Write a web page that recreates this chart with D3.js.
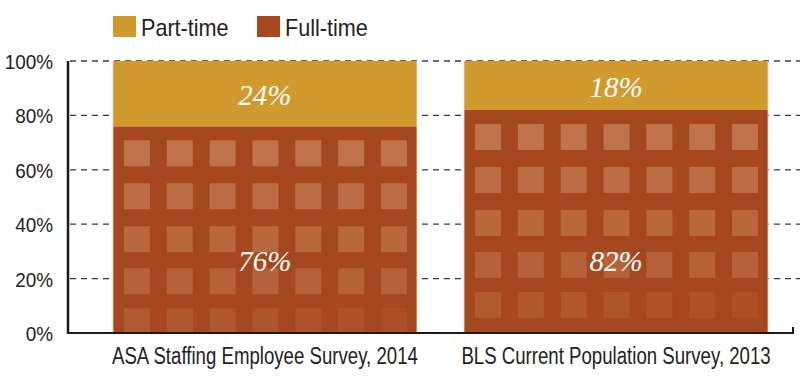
<!DOCTYPE html>
<html><head><meta charset="utf-8">
<script src="https://cdn.jsdelivr.net/npm/d3@7"></script>
<style>
html,body{margin:0;padding:0;background:#fff;}
svg{display:block;}
.cond{font-family:"Liberation Sans Narrow","Liberation Sans",Arial,sans-serif;}
</style></head>
<body>
<svg id="chart" width="800" height="384"></svg>
<script>
const categories = ["ASA Staffing Employee Survey, 2014", "BLS Current Population Survey, 2013"];
const fullTime = [76, 82];
const partTime = [24, 18];
const seriesNames = ["Part-time", "Full-time"];
const yTicks = [0, 20, 40, 60, 80, 100];

const svg = d3.select("#chart");
const colors = {"Part-time": "#d09a2e", "Full-time": "#a5481f"};

// condense text horizontally (emulates a condensed typeface)
function condense(sel, k) {
  sel.each(function () {
    const w = this.getComputedTextLength();
    d3.select(this).attr("textLength", w * k).attr("lengthAdjust", "spacingAndGlyphs");
  });
}

const y = d3.scaleLinear().domain([0, 100]).range([333, 61]);
const x = d3.scaleBand().domain(categories).range([68, 813]).paddingInner(0.134).paddingOuter(0.128);

// gridlines
svg.append("g").selectAll("line").data(yTicks.filter(d => d > 0)).join("line")
  .attr("x1", 70).attr("x2", 800)
  .attr("y1", d => y(d)).attr("y2", d => y(d))
  .attr("stroke", "#3a3a3a").attr("stroke-width", 1.3).attr("stroke-dasharray", "6,5");

// y tick labels
svg.append("g").selectAll("text").data(yTicks).join("text")
  .attr("class", "cond")
  .attr("x", 53).attr("y", d => y(d) + 8)
  .attr("text-anchor", "end").attr("font-size", 21).attr("fill", "#222")
  .text(d => d + "%")
  .call(condense, 0.9);

const defs = svg.append("defs");

categories.forEach((c, i) => {
  const g = svg.append("g");
  const bx = x(c), bw = x.bandwidth();
  const topFull = y(fullTime[i]);
  const topPart = y(fullTime[i] + partTime[i]);
  // full-time bar
  g.append("rect").attr("x", bx).attr("y", topFull).attr("width", bw).attr("height", y(0) - topFull)
    .attr("fill", colors["Full-time"]);
  // part-time bar
  g.append("rect").attr("x", bx).attr("y", topPart).attr("width", bw)
    .attr("height", topFull - topPart).attr("fill", colors["Part-time"]);
  // window-grid squares (decorative) clipped to the full-time bar
  const clipId = "clip" + i;
  defs.append("clipPath").attr("id", clipId).append("rect")
    .attr("x", bx).attr("y", topFull).attr("width", bw).attr("height", y(0) - topFull);
  const sq = 26, cols = 7, rowOffs = [14, 57, 100, 142, 182];
  const colStep = (bw - 21 - sq) / (cols - 1);
  const sg = g.append("g").attr("clip-path", `url(#${clipId})`);
  const cells = [];
  rowOffs.forEach((ro, r) => { for (let k = 0; k < cols; k++) cells.push({r, k, ro}); });
  sg.selectAll("rect.sq").data(cells).join("rect").attr("class", "sq")
    .attr("x", d => bx + 11 + d.k * colStep)
    .attr("y", d => topFull + d.ro)
    .attr("width", sq).attr("height", sq)
    .attr("fill", "#dc9d78")
    .attr("fill-opacity", d => 0.5 - d.r * 0.07 - (d.r === 4 ? d.k * 0.02 : 0));
  // thin light edges
  [bx, bx + bw].forEach(ex => {
    g.append("line").attr("x1", ex).attr("x2", ex).attr("y1", y(100)).attr("y2", y(0))
      .attr("stroke", "#f3dcc0").attr("stroke-width", 0.8);
  });
  // value labels
  g.append("text").attr("x", bx + bw / 2).attr("y", (topPart + topFull) / 2 + 11.5)
    .attr("text-anchor", "middle").attr("font-family", "'Liberation Serif','DejaVu Serif',serif")
    .attr("font-style", "italic").attr("font-size", 29).attr("fill", "#fff")
    .text(partTime[i] + "%");
  g.append("text").attr("x", bx + bw / 2).attr("y", y(23) + 1)
    .attr("text-anchor", "middle").attr("font-family", "'Liberation Serif','DejaVu Serif',serif")
    .attr("font-style", "italic").attr("font-size", 29).attr("fill", "#fff")
    .text(fullTime[i] + "%");
  // category label
  svg.append("text").attr("class", "cond").attr("x", bx + bw / 2).attr("y", 364)
    .attr("text-anchor", "middle").attr("font-size", 23).attr("fill", "#222").text(c)
    .call(condense, 0.81);
});

// axes lines
svg.append("line").attr("x1", 68).attr("x2", 68).attr("y1", y(100)).attr("y2", 334)
  .attr("stroke", "#1a1a1a").attr("stroke-width", 2.5);
svg.append("path").attr("d", `M67,${y(0)}H793V327`).attr("fill", "none")
  .attr("stroke", "#1a1a1a").attr("stroke-width", 2);

// legend
const leg = svg.append("g");
const legX = [113, 257];
seriesNames.forEach((s, i) => {
  leg.append("rect").attr("x", legX[i]).attr("y", 16).attr("width", 23).attr("height", 21).attr("fill", colors[s]);
  leg.append("text").attr("class", "cond").attr("x", legX[i] + 28).attr("y", 36)
    .attr("font-size", 24).attr("fill", "#222").text(s)
    .call(condense, 0.9);
});
</script>
</body></html>
